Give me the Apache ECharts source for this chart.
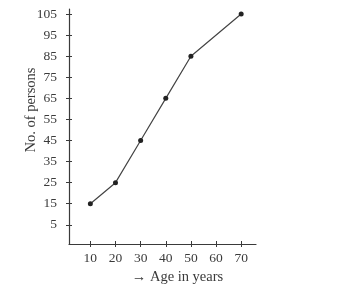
<!DOCTYPE html>
<html>
<head>
<meta charset="utf-8">
<script src="https://cdn.jsdelivr.net/npm/echarts@6/dist/echarts.min.js"></script>
<style>
html,body{margin:0;padding:0;background:#fff;}
#c{width:342px;height:299px;}
</style>
</head>
<body>
<div id="c"></div>
<script>
const ages = [10, 20, 30, 40, 50, 70];
const persons = [15, 25, 45, 65, 85, 105];
const xTicks = [10, 20, 30, 40, 50, 60, 70];
const yTicks = [5, 15, 25, 35, 45, 55, 65, 75, 85, 95, 105];
const xName = '\u2192 Age in years';
const yName = 'No. of persons';

const font = 'Liberation Serif';
const ink = '#3a3a3a';
const X_MIN = 1.5, X_MAX = 75.9, Y_MIN = -4.1, Y_MAX = 107.4;

const chart = echarts.init(document.getElementById('c'), null, {renderer: 'canvas'});

function xAxisCfg(inside, main) {
  return {
    type: 'value', min: X_MIN, max: X_MAX, position: 'bottom',
    name: main ? xName : '', nameLocation: 'middle', nameGap: 26, nameMoveOverlap: false,
    nameTextStyle: {fontFamily: font, fontSize: 14.5, color: ink, padding: [0, 0, 0, 30]},
    axisLine: {show: main, onZero: false, lineStyle: {color: ink, width: 1.2}},
    axisTick: {show: true, inside: inside, length: 3, customValues: xTicks, lineStyle: {color: ink, width: 1}},
    axisLabel: {show: main, customValues: xTicks, margin: 7, fontFamily: font, fontSize: 13.5, color: ink},
    splitLine: {show: false}
  };
}
function yAxisCfg(inside, main) {
  return {
    type: 'value', min: Y_MIN, max: Y_MAX, position: 'left',
    name: main ? yName : '', nameLocation: 'middle', nameGap: 30, nameRotate: 90, nameMoveOverlap: false,
    nameTextStyle: {fontFamily: font, fontSize: 14.5, color: ink, padding: [0, 0, 0, 33]},
    axisLine: {show: main, onZero: false, lineStyle: {color: ink, width: 1.2}},
    axisTick: {show: true, inside: inside, length: 3, customValues: yTicks, lineStyle: {color: ink, width: 1}},
    axisLabel: {show: main, customValues: yTicks, margin: 12, fontFamily: font, fontSize: 13.5, color: ink},
    splitLine: {show: false}
  };
}

chart.setOption({
  animation: false,
  backgroundColor: '#fff',
  grid: {left: 69, right: 86, top: 9, bottom: 55, containLabel: false},
  xAxis: [xAxisCfg(false, true), xAxisCfg(true, false)],
  yAxis: [yAxisCfg(false, true), yAxisCfg(true, false)],
  series: [{
    type: 'line',
    data: ages.map((a, i) => [a, persons[i]]),
    symbol: 'circle', symbolSize: 5,
    itemStyle: {color: '#222'},
    lineStyle: {color: '#444', width: 1.2}
  }]
});
</script>
</body>
</html>
